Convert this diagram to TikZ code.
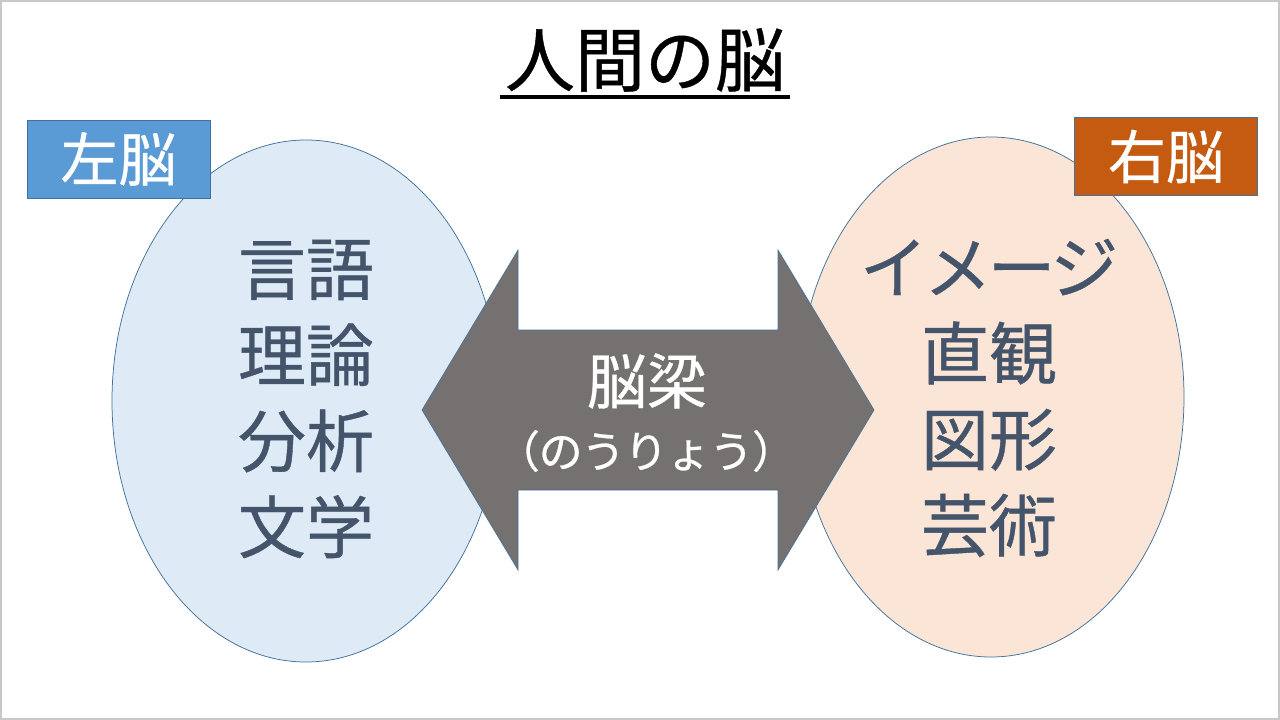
\documentclass[tikz,border=0pt]{standalone}
\usepackage{fontspec}
\usepackage{xcolor}
\usepackage{tikz}
\usetikzlibrary{calc}
\newfontfamily\jpfont[FakeBold=0.6]{Noto Sans CJK JP}
\definecolor{frame}{HTML}{C8C8C8}
\definecolor{edge}{HTML}{41719C}
\definecolor{leftfill}{HTML}{DEEBF7}
\definecolor{rightfill}{HTML}{FBE5D6}
\definecolor{leftbox}{HTML}{5B9BD5}
\definecolor{rightbox}{HTML}{C55A11}
\definecolor{bridge}{HTML}{767171}
\definecolor{ink}{HTML}{44546A}
\tikzset{
  lobe/.style={draw=edge, line width=0.75pt},
  tag/.style={draw=edge, line width=0.75pt, minimum width=183pt, minimum height=78pt,
    inner sep=0pt, text=white, font=\jpfont\fontsize{58}{70}\selectfont},
  words/.style={text=ink, align=center, inner sep=0pt, font=\jpfont\fontsize{68}{86}\selectfont},
  uline/.style={draw=black, line width=3.5pt},
  wlbl/.style={text=white, inner sep=0pt}
}
\begin{document}
\begin{tikzpicture}[x=1pt, y=-1pt]
  \useasboundingbox (0,0) rectangle (1280,720);
  \fill[white] (0,0) rectangle (1280,720);
  \draw[frame, line width=2pt] (1,1) rectangle (1279,719);

  \node[inner sep=0pt, font=\jpfont\fontsize{70}{80}\selectfont] (title) at (645,60) {人間の脳};
  \draw[uline] ([shift={(-5,11)}]title.base west) -- ([shift={(5,11)}]title.base east);

  \fill[leftfill] (306,401) ellipse [x radius=194, y radius=261];
  \draw[lobe] (306,401) ellipse [x radius=194, y radius=261];
  \fill[rightfill] (991,397) ellipse [x radius=193, y radius=260];
  \draw[lobe] (991,397) ellipse [x radius=193, y radius=260];

  \node[tag, fill=leftbox] (lefttag) at (118.5,159) {左脳};
  \node[tag, fill=rightbox] (righttag) at (1166,156.5) {右脳};

  \node[words] (leftwords) at (306,399) {言語\\理論\\分析\\文学};
  \node[words] (rightwords) at (989,398) {{\addfontfeatures{LetterSpace=-6}イメージ}\\直観\\図形\\芸術};

  \filldraw[fill=bridge, draw=edge, line width=0.6pt]
    (422,410) -- (518,250) -- (518,330) -- (778,330) -- (778,250) -- (874,410)
    -- (778,570) -- (778,490) -- (518,490) -- (518,570) -- cycle;

  \node[wlbl, font=\jpfont\fontsize{60}{70}\selectfont] (ccname) at (647,381) {脳梁};
  \node[wlbl, font=\jpfont\fontsize{44}{54}\selectfont] (ccread) at (646,451) {{\addfontfeatures{LetterSpace=-3}（のうりょう）}};
\end{tikzpicture}
\end{document}
